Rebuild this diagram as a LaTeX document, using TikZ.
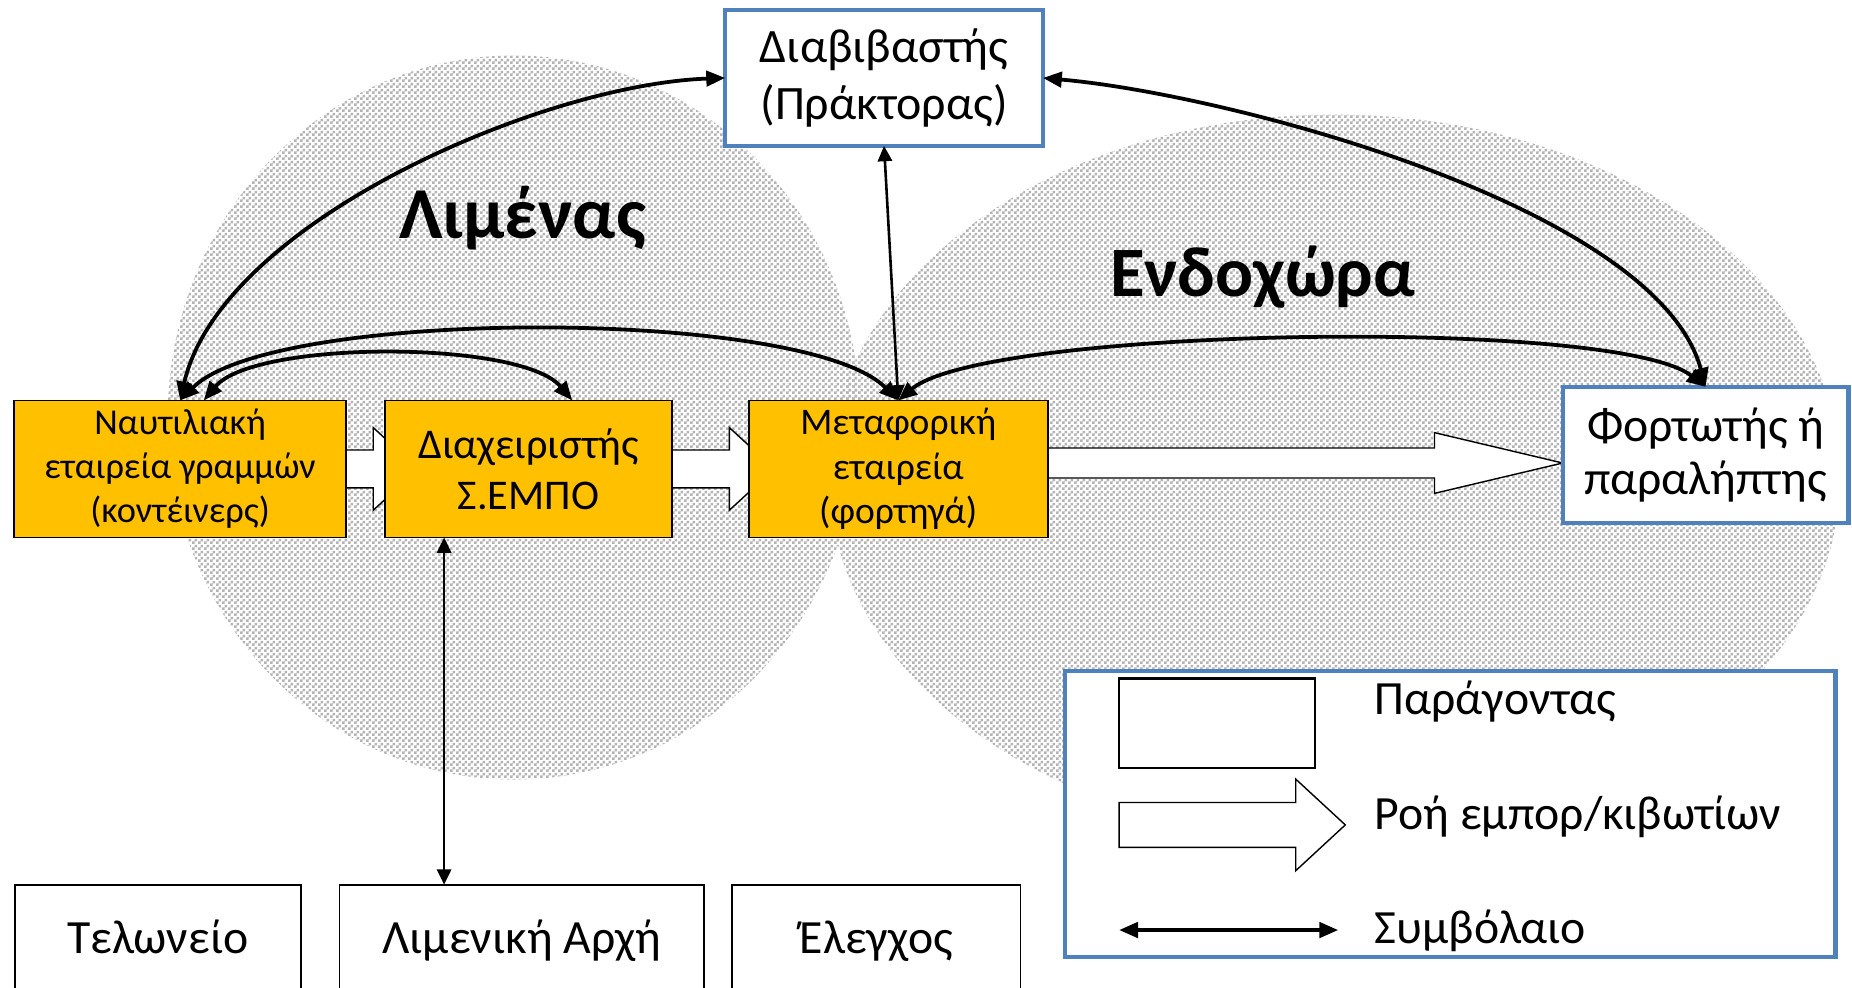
\documentclass[tikz,border=0pt]{standalone}
\usepackage{fontspec}
\setmainfont{Carlito}
\usepackage{tikz}
\usetikzlibrary{shapes.geometric, arrows.meta, calc, backgrounds, patterns}
\definecolor{boxorange}{HTML}{FFC000}
\definecolor{boxblue}{HTML}{4F81BD}
\definecolor{dotgray}{RGB}{180,180,180}
\pgfdeclarepatternformonly{checker}{\pgfpointorigin}{\pgfpoint{2.54pt}{2.54pt}}{\pgfpoint{2.54pt}{2.54pt}}{%
  \pgfpathrectangle{\pgfpointorigin}{\pgfpoint{1.27pt}{1.27pt}}%
  \pgfpathrectangle{\pgfpoint{1.27pt}{1.27pt}}{\pgfpoint{1.27pt}{1.27pt}}%
  \pgfusepath{fill}}
\tikzstyle{actor} = [rectangle, draw=black, line width=0.75pt, fill=boxorange, align=center, inner sep=0pt, outer sep=0pt, minimum height=58pt, font=\fontsize{15.4}{18.6}\selectfont]
\tikzstyle{agent} = [rectangle, draw=boxblue, line width=1.8pt, fill=white, align=center, inner sep=0pt, outer sep=0pt, minimum height=57.5pt]
\tikzstyle{authority} = [rectangle, draw=black, line width=0.75pt, fill=white, inner sep=0pt, outer sep=0pt, minimum height=46pt, text height=16pt, text depth=3.4pt, font=\fontsize{20.2}{24}\selectfont]
\tikzstyle{legendbox} = [rectangle, draw=boxblue, line width=1.8pt, fill=white, inner sep=0pt, outer sep=0pt]
\tikzstyle{region} = [anchor=base, font=\bfseries\fontsize{31}{37}\selectfont]
\tikzstyle{legendtext} = [anchor=base west, font=\fontsize{20.2}{24}\selectfont]
\tikzstyle{zone} = [pattern=checker, pattern color=dotgray]
\tikzstyle{flow} = [draw=black, line width=0.6pt, fill=white]
\tikzstyle{contract} = [line width=1.6pt, {Triangle[length=8pt,width=6.5pt]}-{Triangle[length=8pt,width=6.5pt]}]
\tikzstyle{contractthin} = [line width=1.1pt, {Triangle[length=6.5pt,width=6pt]}-{Triangle[length=6.5pt,width=6pt]}]
% wide flow arrow: from, to, head base before target, head length, shaft half, head half, y offset
\newcommand{\flowlink}[7]{%
  \coordinate (fs) at ($(#1.east)+(-6,#7)$);
  \coordinate (fb) at ($(#2.west |- #1.east)+(-#3,#7)$);
  \draw [flow] ($(fs)+(0,#5)$) -- ($(fb)+(0,#5)$) -- ($(fb)+(0,#6)$) -- ($(fb)+(#4,0)$)
    -- ($(fb)+(0,-#6)$) -- ($(fb)+(0,-#5)$) -- ($(fs)+(0,-#5)$) -- cycle;}

\begin{document}
\begin{tikzpicture}[x=0.5pt, y=0.5pt]
    \useasboundingbox (0,0) rectangle (1568,-836);
    \node (diav) [agent, minimum width=134.5pt, font=\fontsize{20.3}{24}\selectfont] at (748.5,-66) {Διαβιβαστής\\(Πράκτορας)};
    \node (naut) [actor, minimum width=140.5pt] at (152.5,-397) {Ναυτιλιακή\\εταιρεία γραμμών\\(κοντέινερς)};
    \node (diax) [actor, minimum width=121.5pt, font=\fontsize{17.9}{21.5}\selectfont] at (447.5,-397) {Διαχειριστής\\Σ.ΕΜΠΟ};
    \node (metaf) [actor, minimum width=126.5pt, font=\fontsize{15.9}{18.8}\selectfont] at (760.5,-397) {Μεταφορική\\εταιρεία\\(φορτηγά)};
    \node (fort) [agent, minimum width=121pt, font=\fontsize{20.2}{22.5}\selectfont] at (1444,-385) {Φορτωτής ή\\παραλήπτης};
    \node (telon) [authority, minimum width=121.25pt] at (133.75,-795) {Τελωνείο};
    \node (limen) [authority, minimum width=154.25pt] at (441.75,-795) {Λιμενική Αρχή};
    \node (elegx) [authority, minimum width=122pt] at (742,-795) {Έλεγχος};
    \node (port) [region] at (442.5,-202) {Λιμένας};
    \node (hinter) [region, font=\bfseries\fontsize{30}{36}\selectfont] at (1069,-251) {Ενδοχώρα};

    \begin{scope}[on background layer]
        \fill [white] (0,0) rectangle (1568,-836);
        \path [zone] (435,-353.5) ellipse [x radius=293, y radius=306.5];
        \path [zone] (1130,-404) ellipse [x radius=428, y radius=307];
        \flowlink{naut}{diax}{10}{38}{16}{35}{0}
        \flowlink{diax}{metaf}{16.5}{38}{16}{35}{0}
        \flowlink{metaf}{fort}{108.5}{108.5}{12.7}{25.7}{5}
    \end{scope}

    \draw [contract] (naut.north) to [out=77, in=182, looseness=0.74] (diav.west);
    \draw [contract] (naut.north) to [out=45, in=135, looseness=0.47] (metaf.north);
    \draw [contract] ([xshift=10pt]naut.north) to [out=50, in=130, looseness=0.55] ([xshift=18.5pt]diax.north);
    \draw [contract] (metaf.north) to [out=40, in=142, looseness=0.36] (fort.north);
    \draw [contract] (diav.east) to [out=-5, in=105, looseness=0.65] (fort.north);
    \draw [contractthin] (metaf.north) -- (diav.south);
    \draw [contractthin] ([xshift=-35.75pt]diax.south) -- ([xshift=-35.75pt]diax.south |- limen.north);

    % legend
    \node (legend) [legendbox, minimum width=326.2pt, minimum height=120.8pt] at (1227.8,-689.2) {};
    \node (legfactor) [rectangle, draw=black, line width=0.9pt, inner sep=0pt, minimum width=82.75pt, minimum height=37.95pt] at (1030.25,-612.35) {};
    \draw [flow] (947.5,-679.4) -- (1097,-679.4) -- (1097,-659.6) -- (1139,-698.4) -- (1097,-737.2) -- (1097,-717.4) -- (947.5,-717.4) -- cycle;
    \coordinate (legl) at (947.5,-787.4);
    \coordinate (legr) at (1133,-787.4);
    \draw [contract] (legl) -- (legr);
    \node (legtxt1) [legendtext] at (1157,-605) {Παράγοντας};
    \node (legtxt2) [legendtext] at (1157,-702) {Ροή εμπορ/κιβωτίων};
    \node (legtxt3) [legendtext] at (1157,-799) {Συμβόλαιο};
\end{tikzpicture}
\end{document}
